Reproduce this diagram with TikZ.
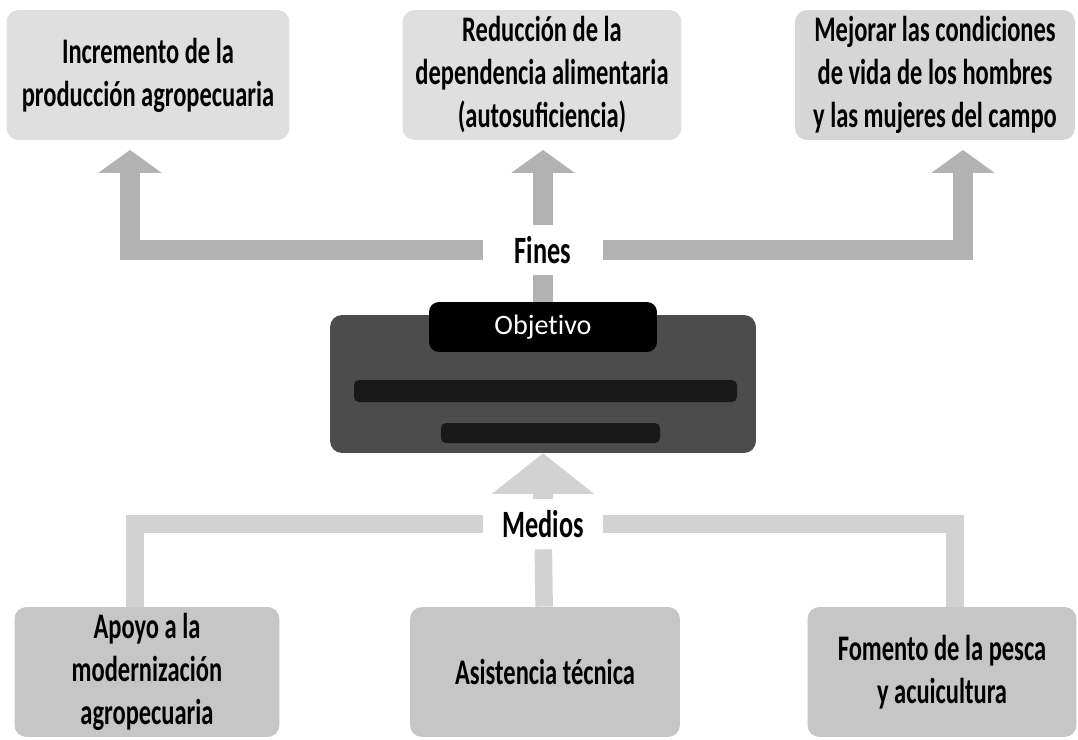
\documentclass[tikz,border=0pt]{standalone}
\usepackage{fontspec}
\usetikzlibrary{arrows.meta}
\newfontfamily\boxfont[FakeStretch=0.68]{Carlito}
\newfontfamily\tabfont[Ligatures=NoCommon]{Carlito}

\begin{document}
\begin{tikzpicture}[x=0.02cm, y=-0.02cm,
    txt/.style={align=center, font=\boxfont\bfseries\fontsize{20.5}{24.5}\selectfont},
    topbox/.style={txt, fill=gray!25, rounded corners=0.24cm, minimum height=2.6cm},
    botbox/.style={txt, fill=gray!45, rounded corners=0.24cm, minimum height=2.6cm},
    tag/.style={txt, font=\boxfont\bfseries\fontsize{22}{26}\selectfont, fill=white, minimum width=2.4cm, minimum height=1cm},
    finesline/.style={line width = 11pt, gray!60, line join=miter},
    medline/.style={line width = 10pt, gray!35, line join=miter},
    fineshead/.style={{Triangle[width=36pt, length=13pt, line width=0pt]}-},
    medhead/.style={-{Triangle[width=58pt, length=23pt, line width=0pt]}}]
    \useasboundingbox (0,0) rectangle (1078,740);
    % draw ends
    \node[topbox, minimum width=5.66cm] (inc) at (148,75) {Incremento de la\\producción agropecuaria};
    \node[topbox, minimum width=5.58cm] (red) at (542,75) {Reducción de la\\dependencia alimentaria\\(autosuficiencia)};
    \node[topbox, fill=gray!32, minimum width=5.6cm] (mej) at (935,75) {Mejorar las condiciones\\de vida de los hombres\\y las mujeres del campo};
    % draw objective
    \node[fill=black!70, rounded corners=0.24cm, minimum width=8.52cm, minimum height=2.76cm] (obj) at (543,384) {};
    \node[fill=black, rounded corners=0.2cm, minimum width=4.56cm, minimum height=1cm,
        text=white, font=\tabfont\fontsize{16}{19}\selectfont] (tab) at (543,327) {Objetivo};
    \fill[black!90, rounded corners=0.1cm] (354,380) rectangle (737,402);
    \fill[black!90, rounded corners=0.1cm] (441,423) rectangle (660,443);
    % draw means
    \node[botbox, minimum width=5.3cm] (apo) at (147,672) {Apoyo a la\\modernización\\agropecuaria};
    \node[botbox, minimum width=5.4cm] (asi) at (545,672) {Asistencia técnica};
    \node[botbox, minimum width=5.38cm] (fom) at (942,672) {Fomento de la pesca\\y acuicultura};
    % fines arrows
    \node[tag] (fines) at (543,250) {Fines};
    \coordinate (f1) at (130,150);
    \coordinate (f2) at (543,150);
    \coordinate (f3) at (963,150);
    \draw[finesline, fineshead] (f1) |- (fines);
    \draw[finesline, fineshead] (f3) |- (fines);
    \draw[finesline, fineshead] (f2) -- (fines);
    \draw[finesline] (tab) -- (fines);
    % medios arrows
    \node[tag] (medios) at (543,524) {Medios};
    \coordinate (m1) at (135,524);
    \coordinate (m3) at (955,524);
    \draw[medline] (apo.north -| m1) |- (medios);
    \draw[medline] (fom.north -| m3) |- (medios);
    \draw[medline] (asi) -- (medios);
    \draw[medline, line width=11pt, medhead] (medios) -- (obj);
\end{tikzpicture}
\end{document}
